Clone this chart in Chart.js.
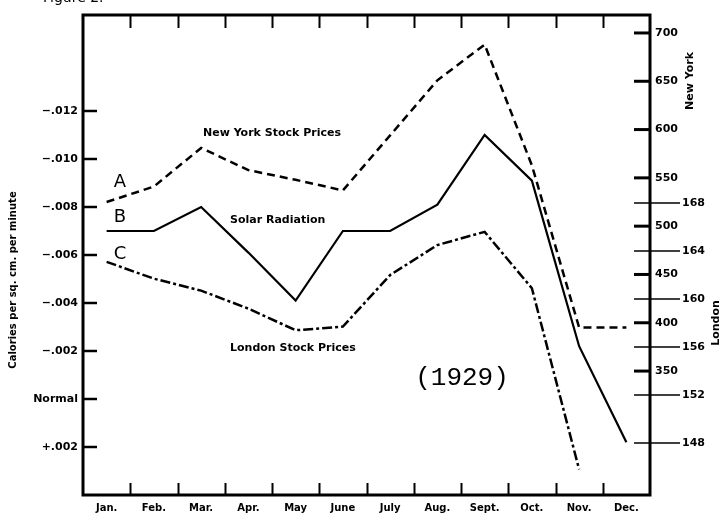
<!DOCTYPE html>
<html>
<head>
<meta charset="utf-8">
<script src="https://cdn.jsdelivr.net/npm/chart.js@4.4.1/dist/chart.umd.min.js"></script>
<style>
  html, body { margin: 0; padding: 0; background: #fff; }
  #wrap { width: 723px; height: 514px; position: relative; }
</style>
</head>
<body>
<div id="wrap"><canvas id="c" width="723" height="514"></canvas></div>
<script>
// Months of 1929
const months = ['Jan.', 'Feb.', 'Mar.', 'Apr.', 'May', 'June', 'July', 'Aug.', 'Sept.', 'Oct.', 'Nov.', 'Dec.'];

// A: New York stock prices (right inner scale)
const newYorkStocks = [525, 541, 581, 558, 548, 537, 594, 651, 688, 563, 395, 395];
// B: solar radiation, departure from normal in calories per sq. cm. per minute (left scale)
const solarRadiation = [-0.0070, -0.0070, -0.0080, -0.0061, -0.0041, -0.0070, -0.0070, -0.0081, -0.0110, -0.0091, -0.0022, 0.0018];
// C: London stock prices (right outer scale)
const londonStocks = [163.1, 161.7, 160.7, 159.2, 157.4, 157.7, 162.0, 164.5, 165.6, 160.9, 145.8, null];

// Tick values and their printed labels
const calTicks = [-0.012, -0.010, -0.008, -0.006, -0.004, -0.002, 0, 0.002];
const calTickLabels = ['\u2212.012', '\u2212.010', '\u2212.008', '\u2212.006', '\u2212.004', '\u2212.002', 'Normal', '+.002'];
const newYorkTicks = [700, 650, 600, 550, 500, 450, 400, 350];
const londonTicks = [168, 164, 160, 156, 152, 148];

const INK = '#000';
const LABEL_FONT = '"DejaVu Sans", sans-serif';

// Frame, inward tick marks and the captions written on the figure
const figureMarks = {
  id: 'figureMarks',
  afterDraw(chart) {
    const ctx = chart.ctx;
    const a = chart.chartArea;
    const x = chart.scales.x;
    const cal = chart.scales.cal;
    const ny = chart.scales.ny;
    const lon = chart.scales.london;
    ctx.save();
    ctx.strokeStyle = INK;
    ctx.fillStyle = INK;

    // frame
    ctx.lineWidth = 3;
    ctx.strokeRect(a.left, a.top, a.right - a.left, a.bottom - a.top);

    // month boundaries: ticks up from the bottom and down from the top
    ctx.lineWidth = 2;
    for (let i = 0; i < months.length - 1; i++) {
      const px = Math.round((x.getPixelForValue(i) + x.getPixelForValue(i + 1)) / 2) + 0.5;
      ctx.beginPath();
      ctx.moveTo(px, a.bottom); ctx.lineTo(px, a.bottom - 12);
      ctx.moveTo(px, a.top); ctx.lineTo(px, a.top + 13);
      ctx.stroke();
    }

    // calories scale ticks, pointing into the plot
    ctx.lineWidth = 2.5;
    calTicks.forEach(v => {
      const py = cal.getPixelForValue(v);
      ctx.beginPath(); ctx.moveTo(a.left, py); ctx.lineTo(a.left + 14, py); ctx.stroke();
    });

    // New York scale ticks
    ctx.lineWidth = 3;
    newYorkTicks.forEach(v => {
      const py = ny.getPixelForValue(v);
      ctx.beginPath(); ctx.moveTo(a.right - 16, py); ctx.lineTo(a.right, py); ctx.stroke();
    });

    // London scale ticks, long and thin across the frame
    ctx.lineWidth = 1.5;
    londonTicks.forEach(v => {
      const py = lon.getPixelForValue(v);
      ctx.beginPath(); ctx.moveTo(a.right - 16, py); ctx.lineTo(lon.left, py); ctx.stroke();
    });

    // heading, cut by the top edge
    ctx.font = '14px "DejaVu Sans", sans-serif';
    ctx.textAlign = 'left';
    ctx.textBaseline = 'alphabetic';
    ctx.fillText('Figure 2.', 43, 2);

    // series captions
    ctx.font = 'bold 11px ' + LABEL_FONT;
    ctx.textBaseline = 'middle';
    ctx.fillText('New York Stock Prices', 203, 133);
    ctx.fillText('Solar Radiation', 230, 220);
    ctx.fillText('London Stock Prices', 230, 348);

    ctx.font = '18px "DejaVu Sans", sans-serif';
    ctx.textAlign = 'center';
    ctx.fillText('A', 120, 182);
    ctx.fillText('B', 120, 217);
    ctx.fillText('C', 120, 254);

    ctx.font = '26px "Liberation Mono", "DejaVu Sans Mono", monospace';
    ctx.fillText('(1929)', 462, 378);

    // axis titles, reading upward
    const vertical = (text, cx, cy, font) => {
      ctx.save();
      ctx.translate(cx, cy);
      ctx.rotate(-Math.PI / 2);
      ctx.font = font;
      ctx.textAlign = 'center';
      ctx.textBaseline = 'middle';
      ctx.fillText(text, 0, 0);
      ctx.restore();
    };
    vertical('Calories per sq. cm. per minute', 13, 280, 'bold 10px ' + LABEL_FONT);
    vertical('New York', 690, 81, 'bold 11px ' + LABEL_FONT);
    vertical('London', 716, 323, 'bold 11px ' + LABEL_FONT);

    ctx.restore();
  }
};

const lineStyle = {
  borderColor: INK,
  backgroundColor: INK,
  pointRadius: 0,
  tension: 0,
  fill: false,
  spanGaps: false
};

const tickFont = { family: LABEL_FONT, size: 11, weight: 'bold' };

new Chart(document.getElementById('c'), {
  type: 'line',
  data: {
    labels: months,
    datasets: [
      Object.assign({ label: 'New York Stock Prices', data: newYorkStocks, yAxisID: 'ny',
        borderWidth: 2.5, borderDash: [8, 5] }, lineStyle),
      Object.assign({ label: 'Solar Radiation', data: solarRadiation, yAxisID: 'cal',
        borderWidth: 2.2 }, lineStyle),
      Object.assign({ label: 'London Stock Prices', data: londonStocks, yAxisID: 'london',
        borderWidth: 2.5, borderDash: [10, 3, 3, 3] }, lineStyle)
    ]
  },
  options: {
    responsive: false,
    animation: false,
    devicePixelRatio: 1,
    layout: { padding: { top: 15, left: 0, right: 0, bottom: 0 } },
    plugins: { legend: { display: false }, tooltip: { enabled: false } },
    scales: {
      x: {
        type: 'category',
        offset: true,
        grid: { display: false, drawTicks: false },
        border: { display: false },
        ticks: { color: INK, padding: 7, maxRotation: 0, autoSkip: false,
          font: { family: LABEL_FONT, size: 10, weight: 'bold' } },
        afterFit: s => { s.height = 19; }
      },
      cal: {
        type: 'linear',
        position: 'left',
        reverse: true,
        min: -0.016,
        max: 0.004,
        afterBuildTicks: s => { s.ticks = calTicks.map(v => ({ value: v })); },
        grid: { display: false, drawTicks: false },
        border: { display: false },
        ticks: { color: INK, padding: 5, autoSkip: false,
          callback: (v, i) => calTickLabels[i], font: tickFont },
        afterFit: s => { s.width = 83; }
      },
      ny: {
        type: 'linear',
        position: 'right',
        weight: 0,
        min: 221.7,
        max: 718.6,
        afterBuildTicks: s => { s.ticks = newYorkTicks.map(v => ({ value: v })); },
        grid: { display: false, drawTicks: false },
        border: { display: false },
        ticks: { color: INK, padding: 5, autoSkip: false,
          callback: v => String(v), font: tickFont },
        afterFit: s => { s.width = 30; }
      },
      london: {
        type: 'linear',
        position: 'right',
        weight: 1,
        min: 143.67,
        max: 183.67,
        afterBuildTicks: s => { s.ticks = londonTicks.map(v => ({ value: v })); },
        grid: { display: false, drawTicks: false },
        border: { display: false },
        ticks: { color: INK, padding: 2, autoSkip: false,
          callback: v => String(v), font: tickFont },
        afterFit: s => { s.width = 43; }
      }
    }
  },
  plugins: [figureMarks]
});
</script>
</body>
</html>
